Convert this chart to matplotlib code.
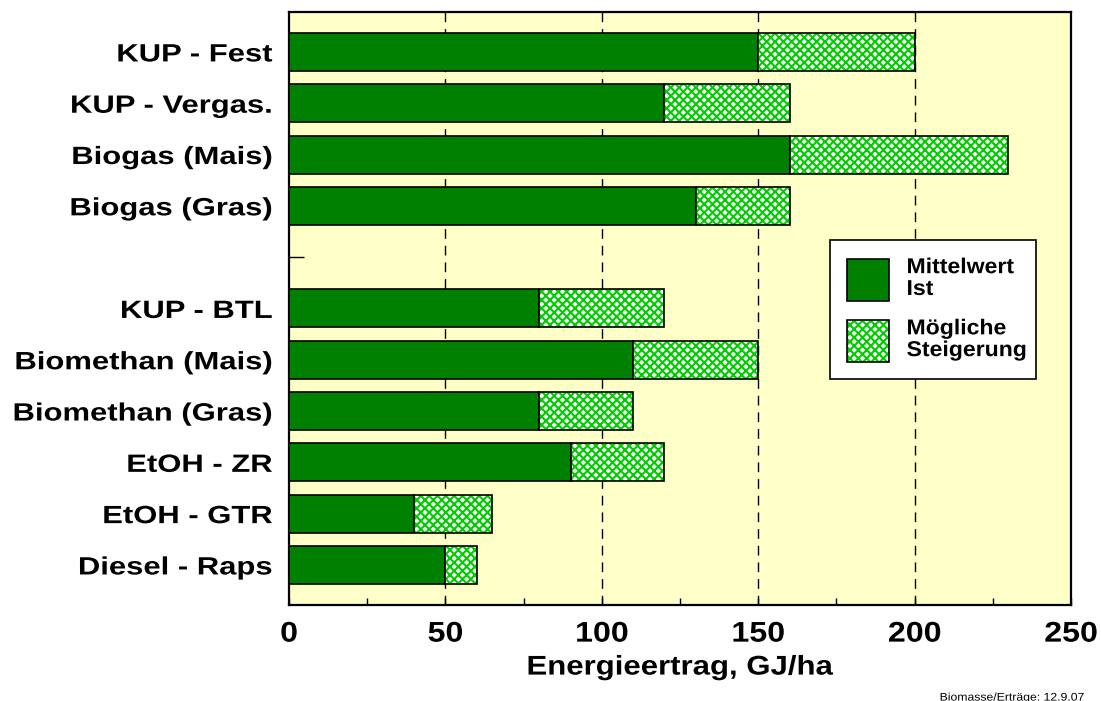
import matplotlib
matplotlib.use("Agg")
import matplotlib.pyplot as plt
from matplotlib.patches import Patch
from matplotlib.patheffects import AbstractPathEffect
from matplotlib.transforms import Affine2D
from matplotlib.legend_handler import HandlerTuple

plt.rcParams["font.family"] = ["Liberation Sans", "DejaVu Sans"]
plt.rcParams["font.weight"] = "bold"
plt.rcParams["hatch.linewidth"] = 1.5

# Daten (GJ/ha)
labels = ["KUP - Fest", "KUP - Vergas.", "Biogas (Mais)", "Biogas (Gras)", "",
          "KUP - BTL", "Biomethan (Mais)", "Biomethan (Gras)", "EtOH - ZR",
          "EtOH - GTR", "Diesel - Raps"]
mittelwert = [150, 120, 160, 130, 0, 80, 110, 80, 90, 40, 50]
maximum = [200, 160, 230, 160, 0, 120, 150, 110, 120, 65, 60]
xticks = [0, 50, 100, 150, 200, 250]

GREEN = "#008000"
LIGHT = "#00cc00"
HATCH = "xxxx"


class Stretch(AbstractPathEffect):
    """Schrift horizontal strecken (Original wirkt breiter als Arial)."""
    def __init__(self, sx, anchor="left"):
        super().__init__()
        self.sx, self.anchor = sx, anchor

    def draw_path(self, renderer, gc, tpath, affine, rgbFace=None):
        ext = tpath.get_extents()
        x0 = {"left": ext.x0, "center": (ext.x0 + ext.x1) / 2, "right": ext.x1}[self.anchor]
        t = Affine2D().translate(-x0, 0).scale(self.sx, 1).translate(x0, 0) + affine
        renderer.draw_path(gc, tpath, t, rgbFace)


fig = plt.figure(figsize=(11.01, 7.01), dpi=100)
ax = fig.add_axes([0.2625, 0.137, 0.7103, 0.846])
ax.set_facecolor("#ffffc8")

ypos = list(range(len(labels)))
steig = [m - w for w, m in zip(mittelwert, maximum)]
bh = 0.74
ax.barh(ypos, mittelwert, height=bh, color=GREEN, edgecolor="black", linewidth=1.2, zorder=3)
ax.barh(ypos, steig, left=mittelwert, height=bh, color="white", edgecolor=LIGHT,
        hatch=HATCH, linewidth=0, zorder=3)
ax.barh(ypos, steig, left=mittelwert, height=bh, fill=False, edgecolor="black",
        linewidth=1.2, zorder=4)

for x in xticks[1:-1]:
    ax.axvline(x, color="black", ls=(0, (7, 5)), lw=1.0, zorder=2)

ax.set_xlim(0, 250)
ax.set_ylim(10.78, -0.78)
ax.set_xticks(xticks)
ax.set_xticks([25, 75, 125, 175, 225], minor=True)
ax.set_xticklabels([str(v) for v in xticks], fontsize=20.5, fontweight="bold")
ax.set_yticks(ypos)
ax.set_yticklabels(labels, fontsize=18, fontweight="bold")
ax.tick_params(axis="x", which="both", direction="in", length=5, width=1, pad=12)
ax.tick_params(axis="y", direction="in", length=11, width=1, pad=12)
for s in ax.spines.values():
    s.set_linewidth(1.6)
ax.set_xlabel("Energieertrag, GJ/ha", fontsize=19.5, fontweight="bold", labelpad=5)

for t in ax.get_yticklabels():
    t.set_path_effects([Stretch(1.24, "right")])
for t in ax.get_xticklabels():
    t.set_path_effects([Stretch(1.13, "center")])
ax.xaxis.label.set_path_effects([Stretch(1.15, "center")])

h1 = Patch(facecolor=GREEN, edgecolor="black", linewidth=1.2)
h2a = Patch(facecolor="white", edgecolor=LIGHT, hatch=HATCH, linewidth=0)
h2b = Patch(fill=False, edgecolor="black", linewidth=1.2)
leg = ax.legend([h1, (h2a, h2b)], ["Mittelwert\nIst", "Mögliche\nSteigerung"],
                handler_map={tuple: HandlerTuple(ndivide=1, pad=0)},
                loc="upper left", bbox_to_anchor=(0.692, 0.6155),
                prop={"size": 15.5, "weight": "bold"}, frameon=True, fancybox=False,
                edgecolor="black", framealpha=1, handlelength=1.95, handleheight=2.63,
                borderpad=0.8, labelspacing=0.8, handletextpad=0.8, borderaxespad=0)
leg.get_frame().set_linewidth(1.2)
for t in leg.get_texts():
    t.set_linespacing(1.05)
    t.set_path_effects([Stretch(1.07, "left")])

ft = fig.text(0.985, 0.012, "Biomasse/Erträge: 12.9.07", fontsize=8, ha="right", va="top",
              fontweight="normal")
ft.set_path_effects([Stretch(1.1, "right")])

fig.savefig("out.png", dpi=100)
